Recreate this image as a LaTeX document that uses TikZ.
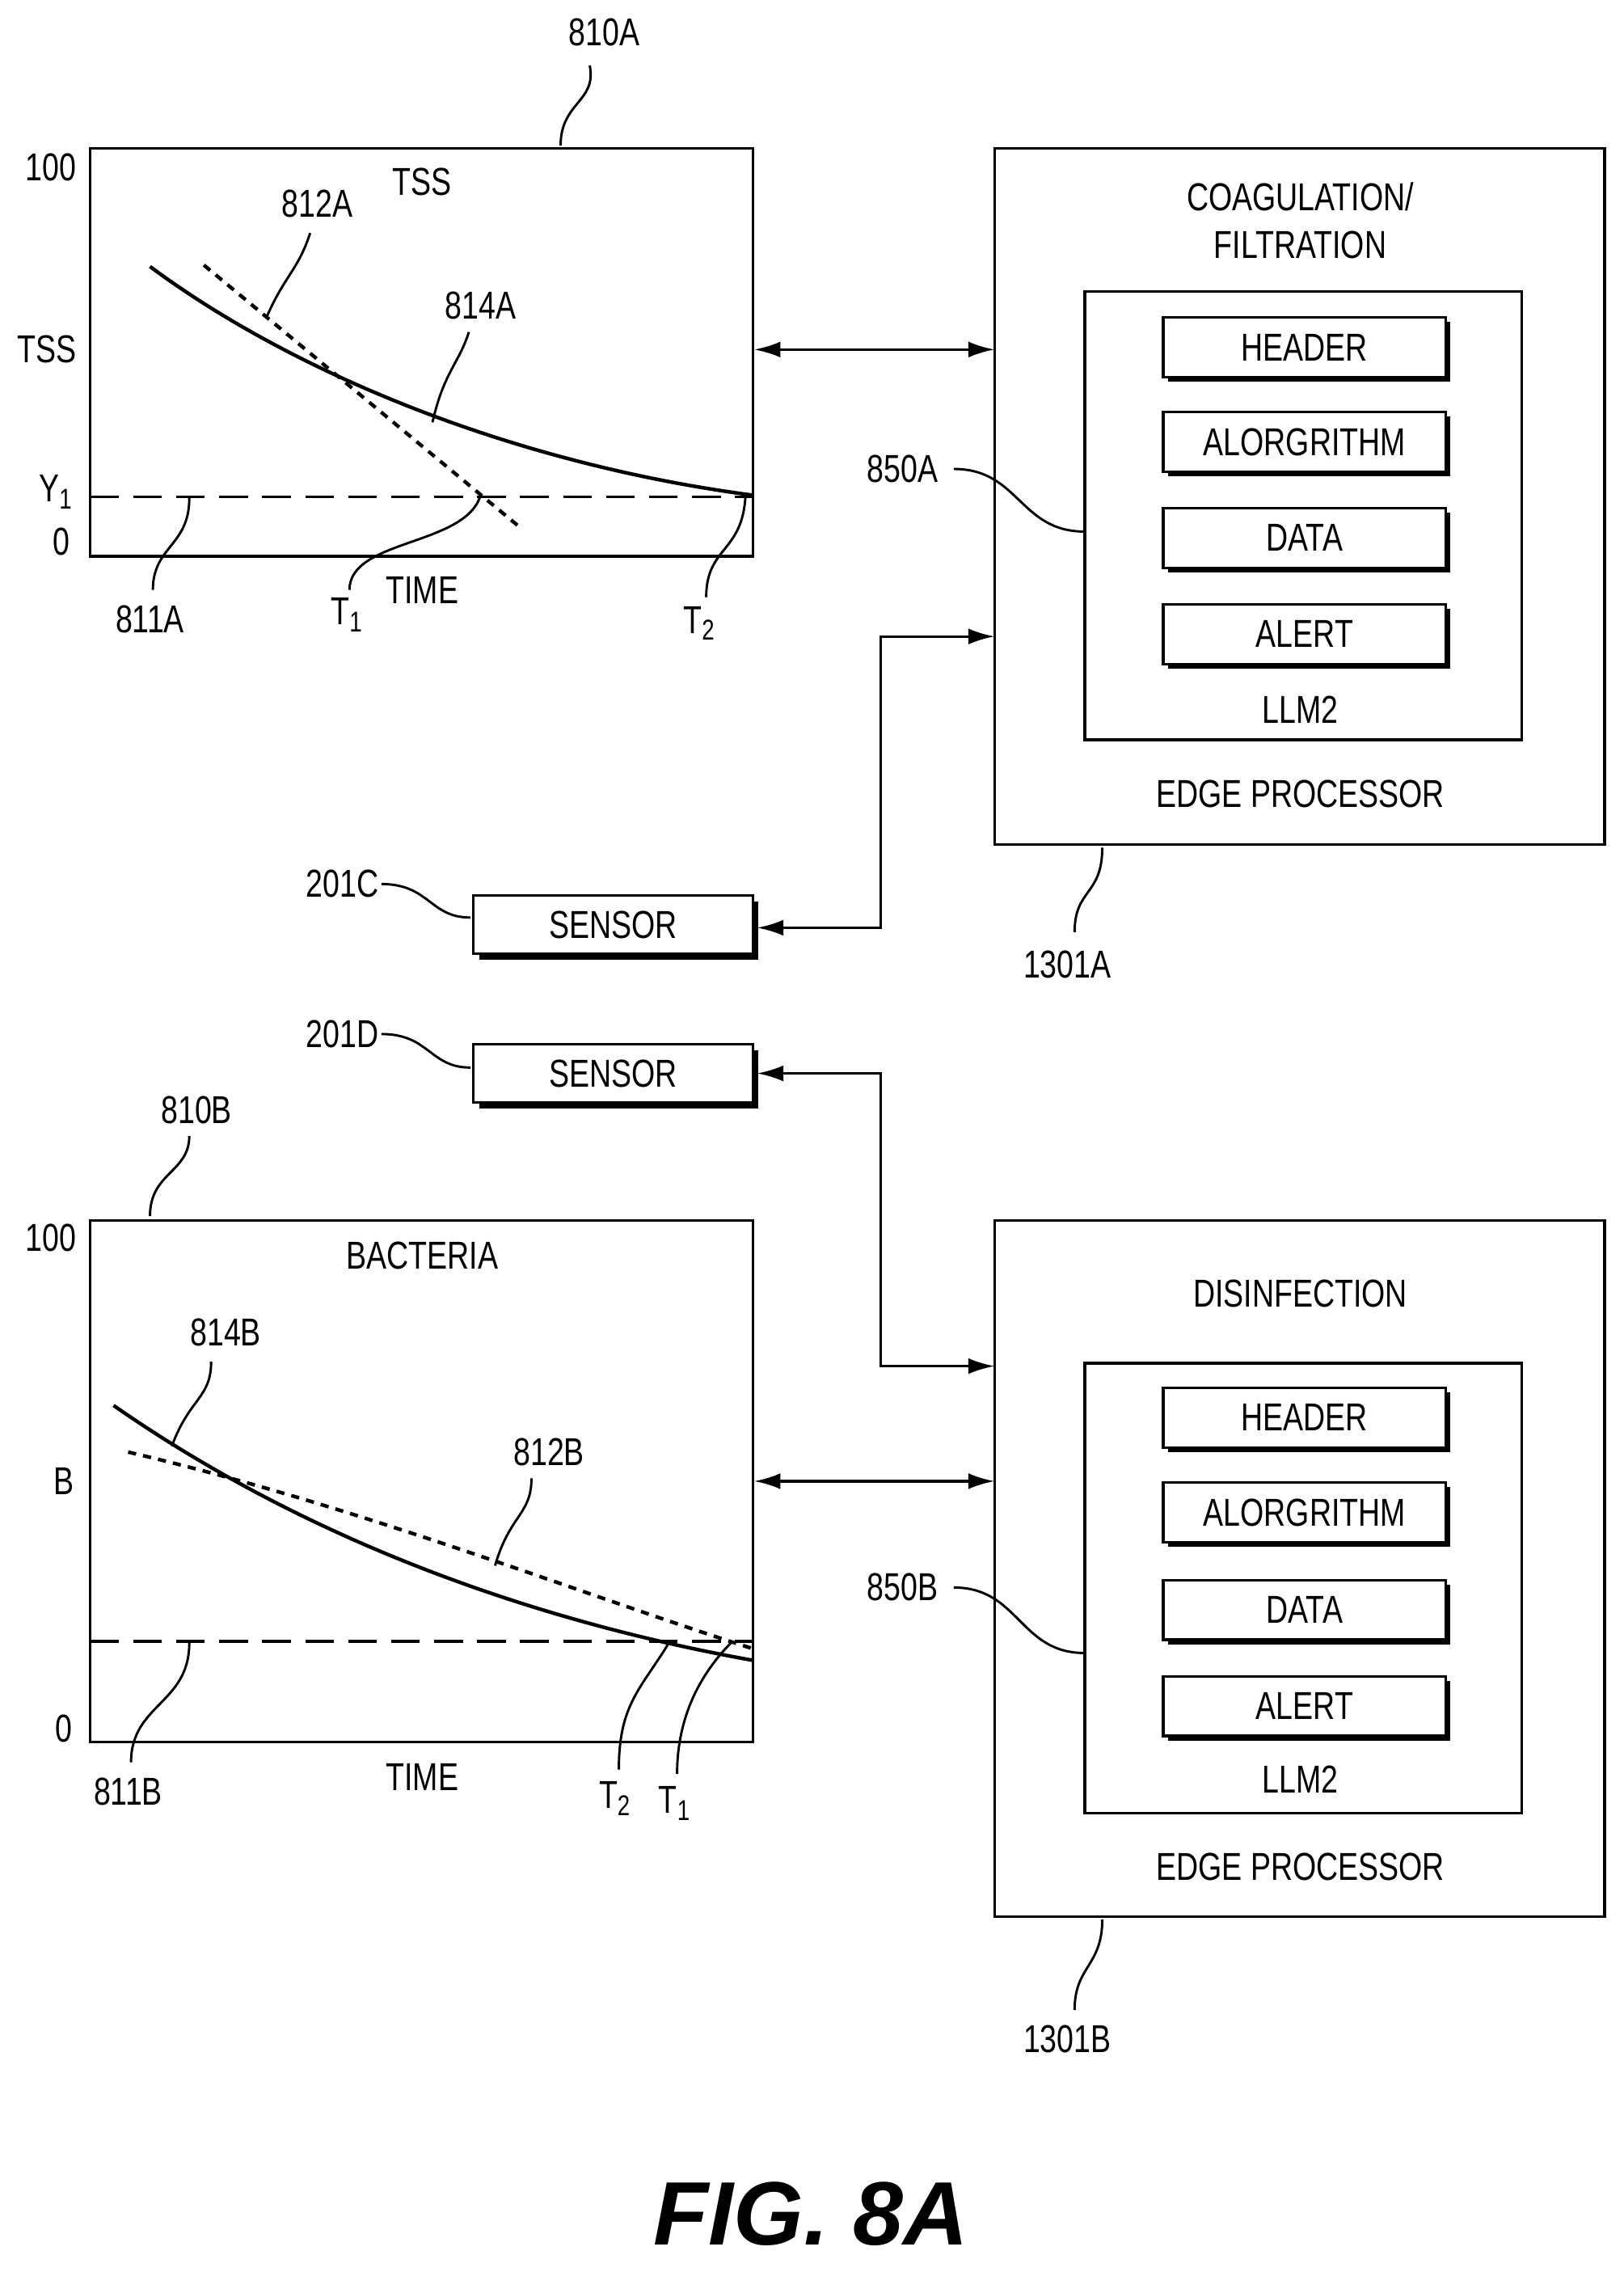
\documentclass[tikz,border=0pt]{standalone}
\usepackage{fontspec}
\setmainfont{Liberation Sans}[FakeStretch=0.78]
\newfontfamily\figfont{Liberation Sans}
\usetikzlibrary{arrows.meta}
\newcommand\sbs[1]{\raisebox{-0.35ex}{\fontsize{28}{30}\selectfont #1}}
\begin{document}
\begin{tikzpicture}[x=0.05cm,y=-0.05cm,
  every node/.style={font=\fontsize{38}{44}\selectfont},
  box/.style={draw,line width=2.6pt},
  sub/.style={draw,line width=2.6pt,fill=white,minimum width=9.7cm,minimum height=2.05cm,inner sep=0},
  lead/.style={line width=2.3pt},
  conn/.style={line width=2.6pt,{Latex[length=0.9cm,width=0.55cm]}-{Latex[length=0.9cm,width=0.55cm]}},
  curve/.style={line width=3.5pt},
  dot/.style={line width=3.5pt,dash pattern=on 8pt off 7pt},
  dsh/.style={line width=2.5pt,dash pattern=on 28pt off 14pt}]
\useasboundingbox (0,0) rectangle (1115,1560);
\newcommand\subbox[3]{\fill (#1)++(4,4) rectangle ++(194,41);
  \node[sub] (#3) at (#1) [anchor=north west] {#2};}

% ---------- graph A
\draw[box] (62,102) rectangle (517,382);
\node (a100) at (35,115) {100};
\node (atss) at (32,240) {TSS};
\node (ay1) at (38,338) {Y\sbs{1}};
\node (a0) at (42,372) {0};
\node (atitle) at (290,125) {TSS};
\node (atime) at (290,405) {TIME};
\draw[dsh] (62,341) -- (517,341);
\draw[curve] (103,183) .. controls (200,255) and (350,318) .. (517,340);
\draw[dot] (140,182) -- (357,362);
\node (l812a) at (218,140) {812A};
\draw[lead] (183,218) .. controls (195,190) and (205,185) .. (213,160);
\node (l814a) at (330,210) {814A};
\draw[lead] (297,290) .. controls (305,255) and (315,250) .. (322,228);
\node (l810a) at (415,22) {810A};
\draw[lead] (385,100) .. controls (385,70) and (410,70) .. (405,45);
\node (l811a) at (103,425) {811A};
\draw[lead] (130,342) .. controls (130,375) and (105,375) .. (105,405);
\node (lt1a) at (238,422) {T\sbs{1}};
\draw[lead] (330,340) .. controls (320,375) and (240,370) .. (240,405);
\node (lt2a) at (480,428) {T\sbs{2}};
\draw[lead] (512,340) .. controls (510,380) and (485,375) .. (485,410);

% ---------- edge A
\draw[box] (683,102) rectangle (1102,580);
\node at (893,135) {COAGULATION/};
\node at (893,168) {FILTRATION};
\draw[box] (745,200) rectangle (1045,508);
\subbox{798,217}{HEADER}{ha}
\subbox{798,282}{ALORGRITHM}{aa}
\subbox{798,348}{DATA}{da}
\subbox{798,414}{ALERT}{la}
\node at (893,487) {LLM2};
\node at (893,545) {EDGE PROCESSOR};
\node (l1301a) at (733,662) {1301A};
\draw[lead] (757,582) .. controls (757,615) and (738,610) .. (738,640);
\node (l850a) at (620,322) {850A};
\draw[lead] (655,322) .. controls (700,322) and (700,365) .. (745,365);
\draw[conn] (518,240) -- (683,240);

% ---------- sensors
\fill (329,619) rectangle (521,659);
\node[draw,line width=2.6pt,fill=white,minimum width=9.6cm,minimum height=2cm] (s1) at (421,635) {SENSOR};
\node (l201c) at (235,607) {201C};
\draw[lead] (262,607) .. controls (295,607) and (295,630) .. (323,630);
\draw[conn] (683,437) -- (605,437) -- (605,637) -- (520,637);
\fill (329,721) rectangle (521,761);
\node[draw,line width=2.6pt,fill=white,minimum width=9.6cm,minimum height=2cm] (s2) at (421,737) {SENSOR};
\node (l201d) at (235,710) {201D};
\draw[lead] (262,710) .. controls (295,710) and (295,733) .. (323,733);
\draw[conn] (520,737) -- (605,737) -- (605,938) -- (683,938);

% ---------- graph B
\draw[box] (62,838) rectangle (517,1196);
\node at (35,850) {100};
\node at (44,1017) {B};
\node at (44,1187) {0};
\node at (290,862) {BACTERIA};
\node at (290,1220) {TIME};
\draw[dsh] (62,1127) -- (517,1127);
\draw[curve] (78,965) .. controls (200,1050) and (350,1110) .. (517,1140);
\draw[dot] (88,997) .. controls (250,1035) and (400,1095) .. (517,1132);
\node at (155,915) {814B};
\draw[lead] (118,993) .. controls (130,960) and (145,960) .. (145,935);
\node at (377,997) {812B};
\draw[lead] (340,1075) .. controls (350,1040) and (365,1040) .. (365,1015);
\node at (135,762) {810B};
\draw[lead] (103,835) .. controls (103,805) and (130,805) .. (130,780);
\node at (88,1230) {811B};
\draw[lead] (130,1128) .. controls (130,1170) and (90,1170) .. (90,1210);
\node at (422,1235) {T\sbs{2}};
\draw[lead] (460,1127) .. controls (440,1160) and (425,1170) .. (425,1215);
\node at (463,1238) {T\sbs{1}};
\draw[lead] (503,1127) .. controls (480,1150) and (465,1180) .. (465,1218);

% ---------- edge B
\draw[box] (683,838) rectangle (1102,1316);
\node at (893,888) {DISINFECTION};
\draw[box] (745,936) rectangle (1045,1245);
\subbox{798,952}{HEADER}{hb}
\subbox{798,1017}{ALORGRITHM}{ab}
\subbox{798,1084}{DATA}{db}
\subbox{798,1150}{ALERT}{lb}
\node at (893,1222) {LLM2};
\node at (893,1282) {EDGE PROCESSOR};
\node at (733,1400) {1301B};
\draw[lead] (757,1318) .. controls (757,1350) and (738,1350) .. (738,1380);
\node at (620,1090) {850B};
\draw[lead] (655,1090) .. controls (700,1090) and (700,1135) .. (745,1135);
\draw[conn] (518,1017) -- (683,1017);

\node[font=\figfont\fontsize{88}{96}\selectfont\bfseries\itshape] (fig) at (557,1520) {FIG. 8A};
\end{tikzpicture}
\end{document}
